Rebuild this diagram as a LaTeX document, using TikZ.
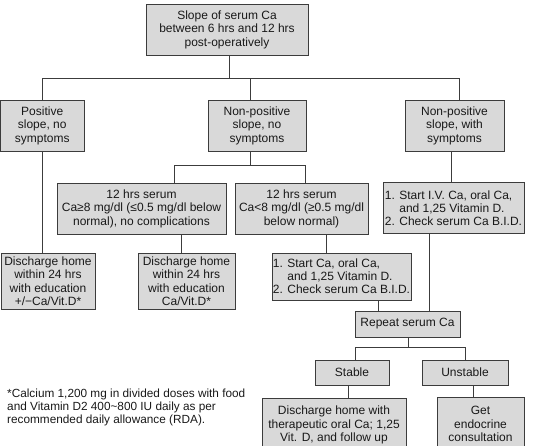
\documentclass[tikz,border=0pt]{standalone}
\usepackage{fontspec}
\setmainfont{Liberation Sans}
\definecolor{boxfill}{RGB}{217,217,217}
\definecolor{edge}{RGB}{60,60,60}
\definecolor{ink}{RGB}{25,25,25}
\tikzset{
  box/.style={draw=edge, fill=boxfill, line width=1pt, inner sep=0pt, align=center,
    font=\fontsize{12}{13.5}\selectfont, text=ink},
  conn/.style={draw=edge, line width=1pt},
  note/.style={inner sep=0pt, align=left, font=\fontsize{11.8}{12.6}\selectfont, text=ink},
}
\begin{document}
\begin{tikzpicture}[x=1pt,y=-1pt]
\useasboundingbox (0,0) rectangle (534,445);
% boxes
\node[box, minimum width=162pt, minimum height=51pt] (top) at (227,29.5) {Slope of serum Ca\\between 6 hrs and 12 hrs\\post-operatively};
\node[box, minimum width=83.5pt, minimum height=51pt] (A) at (42.25,125.5) {Positive\\slope, no\\symptoms};
\node[box, minimum width=98pt, minimum height=51pt] (B) at (257,125.5) {Non-positive\\slope, no\\symptoms};
\node[box, minimum width=99pt, minimum height=51pt] (C) at (454.5,125.5) {Non-positive\\slope, with\\symptoms};
\node[box, minimum width=169pt, minimum height=51pt] (D) at (141.5,208.5) {12 hrs serum\\Ca≥8 mg/dl (≤0.5 mg/dl below\\normal), no complications};
\node[box, minimum width=133pt, minimum height=51pt] (E) at (301.5,208.5) {12 hrs serum\\Ca<8 mg/dl (≥0.5 mg/dl\\below normal)};
\node[box, minimum width=141pt, minimum height=51pt, align=left, font=\fontsize{12}{12.8}\selectfont] (F) at (453.5,208) {1. Start I.V. Ca, oral Ca,\\\phantom{1. }and 1,25 Vitamin D.\\2. Check serum Ca B.I.D.};
\node[box, minimum width=94pt, minimum height=56pt] (G) at (48,281) {Discharge home\\within 24 hrs\\with education\\+/−Ca/Vit.D*};
\node[box, minimum width=97pt, minimum height=56pt] (H) at (186.5,281) {Discharge home\\within 24 hrs\\with education\\Ca/Vit.D*};
\node[box, minimum width=139pt, minimum height=47pt, align=left, font=\fontsize{12}{12.8}\selectfont] (I) at (341.5,276.5) {1. Start Ca, oral Ca,\\\phantom{1. }and 1,25 Vitamin D.\\2. Check serum Ca B.I.D.};
\node[box, minimum width=105pt, minimum height=26pt] (rep) at (407.5,324) {Repeat serum Ca};
\node[box, minimum width=74pt, minimum height=25pt] (st) at (352,372.5) {Stable};
\node[box, minimum width=86pt, minimum height=25pt] (un) at (465,372.5) {Unstable};
\node[box, minimum width=144pt, minimum height=54pt] (dis) at (334,425) {Discharge home with\\therapeutic oral Ca; 1,25\\Vit. D, and follow up};
\node[box, minimum width=87pt, minimum height=54pt] (get) at (480.5,424) {Get\\endocrine\\consultation};
\node[note, anchor=west] (fn) at (7,407.5) {*Calcium 1,200 mg in divided doses with food\\and Vitamin D2 400\textasciitilde800 IU daily as per\\recommended daily allowance (RDA).};
% junction points
\coordinate (j0) at (229,78);
\coordinate (jA) at (42,78);
\coordinate (jB) at (250,78);
\coordinate (jC) at (459,78);
\coordinate (k0) at (250,165.5);
\coordinate (kD) at (174,165.5);
\coordinate (kE) at (305,165.5);
\coordinate (m0) at (408,347);
\coordinate (mS) at (355,347);
\coordinate (mU) at (465,347);
% connectors
\draw[conn] (top.south -| j0) -- (j0);
\draw[conn] (jA |- A.north) -- (jA) -- (jC) -- (jC |- C.north);
\draw[conn] (jB) -- (jB |- B.north);
\draw[conn] (A.south -| jA) -- (G.north -| jA);
\draw[conn] (B.south -| k0) -- (k0);
\draw[conn] (kD |- D.north) -- (kD) -- (kE) -- (kE |- E.north);
\draw[conn] (C.south -| 451,0) -- (F.north -| 451,0);
\draw[conn] (D.south -| 181,0) -- (H.north -| 181,0);
\draw[conn] (E.south -| 326,0) -- (I.north -| 326,0);
\draw[conn] (F.south -| 429,0) -- (rep.north -| 429,0);
\draw[conn] (I.south -| 378,0) -- (rep.north -| 378,0);
\draw[conn] (rep.south -| m0) -- (m0);
\draw[conn] (mS |- st.north) -- (mS) -- (mU) -- (mU |- un.north);
\draw[conn] (st.south -| 348,0) -- (dis.north -| 348,0);
\draw[conn] (un.south -| 473,0) -- (get.north -| 473,0);
\end{tikzpicture}
\end{document}
